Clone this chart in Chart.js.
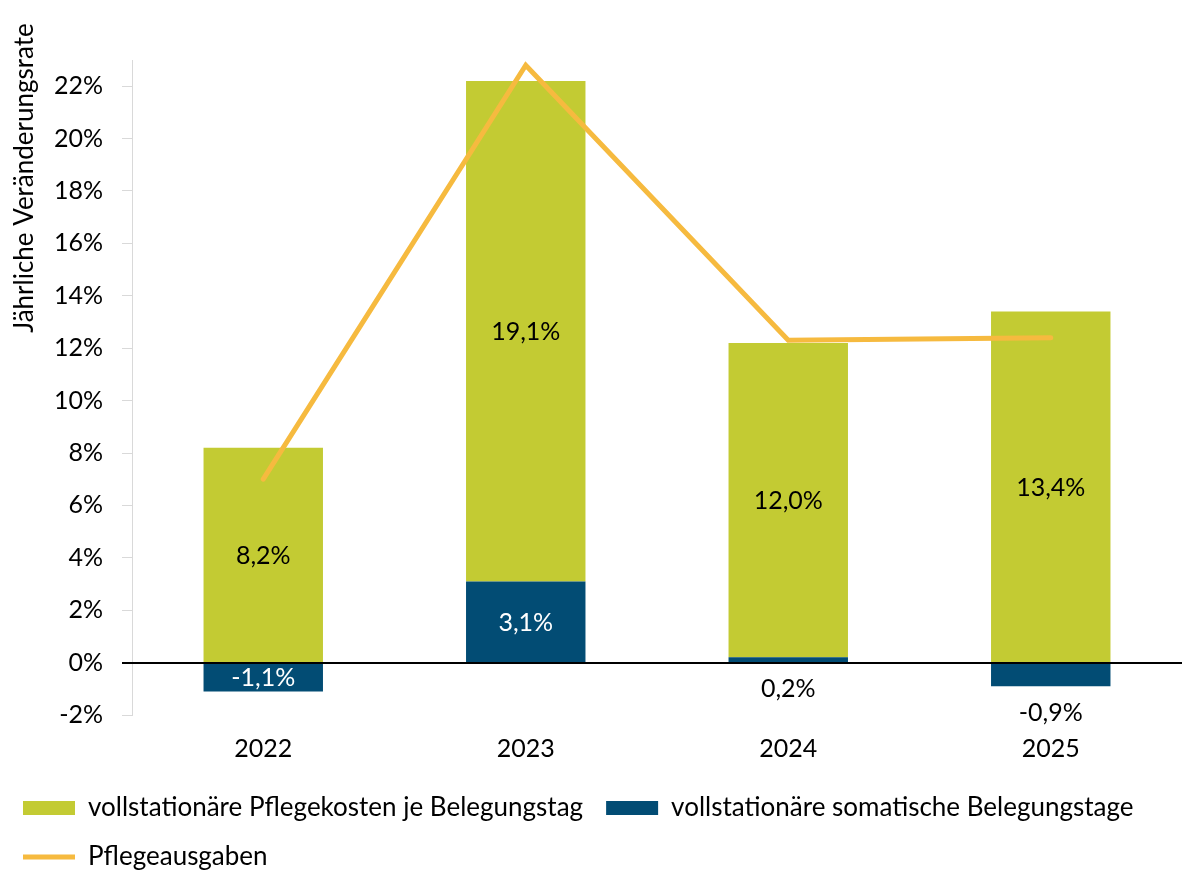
<!DOCTYPE html>
<html lang="de">
<head>
<meta charset="utf-8">
<title>Jährliche Veränderungsrate</title>
<script src="https://cdn.jsdelivr.net/npm/chart.js@4.4.1/dist/chart.umd.min.js"></script>
<style>
  html, body { margin: 0; padding: 0; background: #fff; }
  #wrap { width: 1182px; height: 870px; }
</style>
</head>
<body>
<div id="wrap"><canvas id="chart"></canvas></div>
<script>
// Data
const years = ['2022', '2023', '2024', '2025'];
const pflegekostenJeTag = [8.2, 19.1, 12.0, 13.4];
const belegungstage = [-1.1, 3.1, 0.2, -0.9];
const pflegeausgaben = [7.0, 22.8, 12.3, 12.4];
const yTickValues = [-2, 0, 2, 4, 6, 8, 10, 12, 14, 16, 18, 20, 22];

const colors = {
  green: '#C3CB33',
  blue: '#024C74',
  orange: '#F6BA3F',
  axis: '#D9D9D9',
  text: '#000000'
};
const FONT = 'Lato, "Open Sans", sans-serif';

const fmt = v => v.toFixed(1).replace('.', ',') + '%';

// value labels inside / below the bar segments
const barLabels = {
  id: 'barLabels',
  afterDatasetsDraw(chart) {
    const ctx = chart.ctx;
    ctx.save();
    ctx.font = '25px ' + FONT;
    ctx.textAlign = 'center';
    ctx.textBaseline = 'middle';
    chart.data.datasets.forEach((ds, di) => {
      if (ds.type === 'line') return;
      const meta = chart.getDatasetMeta(di);
      meta.data.forEach((el, i) => {
        const v = ds.data[i];
        const top = Math.min(el.y, el.base);
        const bottom = Math.max(el.y, el.base);
        if (Math.abs(v) < 1) {
          ctx.fillStyle = colors.text;
          ctx.fillText(fmt(v), el.x, bottom + 27);
        } else {
          ctx.fillStyle = ds.labelColor;
          ctx.fillText(fmt(v), el.x, (top + bottom) / 2 + 1);
        }
      });
    });
    ctx.restore();
  }
};

// black zero line over the bars, plus rotated axis title
const zeroLine = {
  id: 'zeroLine',
  afterDatasetsDraw(chart) {
    const ctx = chart.ctx;
    const y = Math.round(chart.scales.y.getPixelForValue(0));
    ctx.save();
    ctx.strokeStyle = '#000';
    ctx.lineWidth = 2;
    ctx.beginPath();
    ctx.moveTo(chart.chartArea.left - 10, y);
    ctx.lineTo(chart.width, y);
    ctx.stroke();
    ctx.restore();
  },
  afterDraw(chart) {
    const ctx = chart.ctx;
    ctx.save();
    ctx.translate(25, 178);
    ctx.rotate(-Math.PI / 2);
    ctx.font = '26px ' + FONT;
    ctx.fillStyle = colors.text;
    ctx.textAlign = 'center';
    ctx.textBaseline = 'middle';
    ctx.fillText('Jährliche Veränderungsrate', 0, 0);
    ctx.restore();
  }
};

const legendRank = { 1: 0, 0: 1, 2: 2 };

new Chart(document.getElementById('chart'), {
  data: {
    labels: years,
    datasets: [
      {
        type: 'bar',
        label: 'vollstationäre somatische Belegungstage',
        data: belegungstage,
        backgroundColor: colors.blue,
        labelColor: '#FFFFFF',
        stack: 'bars',
        pointStyle: 'rect',
        borderWidth: 0,
        categoryPercentage: 1,
        barPercentage: 0.455
      },
      {
        type: 'bar',
        label: 'vollstationäre Pflegekosten je Belegungstag',
        data: pflegekostenJeTag,
        backgroundColor: colors.green,
        labelColor: '#000000',
        stack: 'bars',
        pointStyle: 'rect',
        borderWidth: 0,
        categoryPercentage: 1,
        barPercentage: 0.455
      },
      {
        type: 'line',
        label: 'Pflegeausgaben',
        data: pflegeausgaben,
        borderColor: colors.orange,
        backgroundColor: colors.orange,
        borderWidth: 5,
        borderCapStyle: 'round',
        borderJoinStyle: 'miter',
        pointRadius: 0,
        pointStyle: 'line',
        tension: 0,
        stack: 'line',
        order: -1
      }
    ]
  },
  options: {
    responsive: true,
    maintainAspectRatio: false,
    animation: false,
    layout: { padding: { top: 60, right: -5, bottom: -10, left: 0 } },
    plugins: {
      legend: {
        position: 'bottom',
        align: 'start',
        labels: {
          usePointStyle: true,
          pointStyleWidth: 52,
          boxHeight: 14,
          padding: 23,
          color: colors.text,
          font: { family: FONT, size: 26 },
          sort: (a, b) => legendRank[a.datasetIndex] - legendRank[b.datasetIndex]
        }
      },
      tooltip: { enabled: false }
    },
    scales: {
      x: {
        stacked: true,
        afterFit: scale => { scale.height = 57; },
        grid: { display: false, drawTicks: false },
        border: { display: false },
        ticks: {
          color: colors.text,
          font: { family: FONT, size: 25 },
          padding: 19
        }
      },
      y: {
        stacked: true,
        min: -2,
        max: 23,
        afterBuildTicks: scale => {
          scale.ticks = yTickValues.map(v => ({ value: v }));
        },
        afterFit: scale => { scale.width = 132; },
        grid: {
          drawOnChartArea: false,
          tickLength: 10,
          tickColor: c => (c.tick && c.tick.value === 0 ? '#000' : colors.axis)
        },
        border: { display: true, color: colors.axis, width: 1 },
        ticks: {
          color: colors.text,
          font: { family: FONT, size: 25 },
          padding: 19,
          callback: v => v + '%'
        }
      }
    }
  },
  plugins: [barLabels, zeroLine]
});
</script>
</body>
</html>
